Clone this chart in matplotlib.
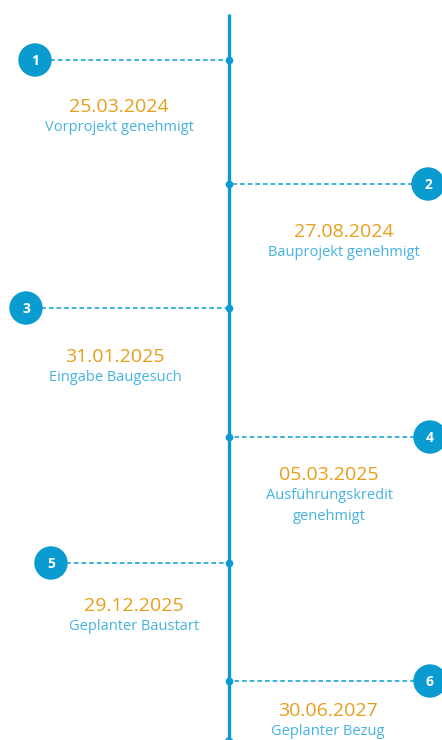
import matplotlib.pyplot as plt
from matplotlib.patches import Circle

plt.rcParams['font.family'] = ['Open Sans', 'DejaVu Sans']

numbers = ['1', '2', '3', '4', '5', '6']
dates = ['25.03.2024', '27.08.2024', '31.01.2025', '05.03.2025', '29.12.2025', '30.06.2027']
labels = ['Vorprojekt genehmigt', 'Bauprojekt genehmigt', 'Eingabe Baugesuch',
          'Ausführungskredit\ngenehmigt', 'Geplanter Baustart', 'Geplanter Bezug']

# layout (pixel coordinates of the 442x740 canvas)
row_y = [60, 184, 308, 437, 563, 681]
badge_x = [35, 428, 26, 430, 51, 430]
text_x = [119, 344, 115, 329, 134, 328]
date_y = [107, 232, 357, 475, 606, 711]
axis_x = 229

blue = '#0a9bd0'
light_blue = '#45b2e2'
orange = '#e89e1a'

fig = plt.figure(figsize=(4.42, 7.40), dpi=100)
ax = fig.add_axes([0, 0, 1, 1])
ax.set_xlim(0, 442)
ax.set_ylim(740, 0)
ax.axis('off')

ax.plot([axis_x, axis_x], [14, 745], color=blue, lw=2.4, solid_capstyle='butt', zorder=2)
ax.plot([axis_x - 4, axis_x, axis_x + 4], [741, 737, 741], color=blue, lw=1.2, zorder=2)

for num, date, lab, y, bx, tx, dy in zip(numbers, dates, labels, row_y, badge_x, text_x, date_y):
    ax.plot([bx, axis_x], [y, y], color=blue, lw=1.1, ls=(0, (3, 2)), zorder=1)
    ax.plot(axis_x, y, 'o', color=blue, ms=4.5, zorder=3)
    ax.add_patch(Circle((bx, y), 16, color=blue, zorder=4))
    ax.text(bx, y + 1, num, color='white', fontsize=10, fontweight='bold',
            ha='center', va='center', zorder=5)
    ax.text(tx, dy, date, color=orange, fontsize=14, ha='center', va='center')
    ax.text(tx, dy + 13, lab, color=light_blue, fontsize=10.5, ha='center', va='top',
            linespacing=1.5)

fig.savefig('out.png', dpi=100)
